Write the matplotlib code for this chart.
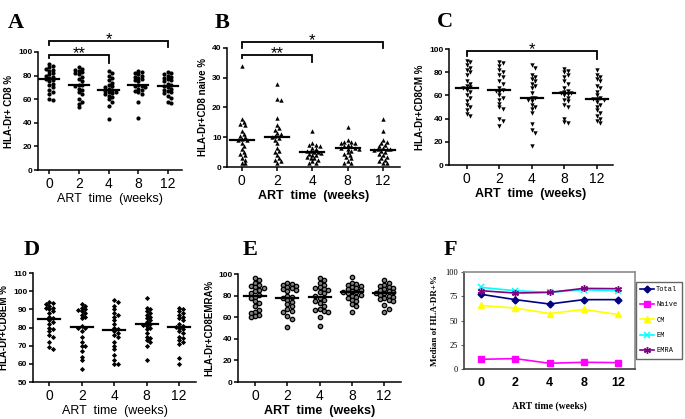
import numpy as np
import matplotlib.pyplot as plt

weeks = ['0', '2', '4', '8', '12']

# A: HLA-DR+ CD8 %
cd8_total = [
    [90, 88, 87, 86, 85, 84, 82, 81, 80, 79, 78, 77, 76, 75, 73, 72, 70, 68, 66, 64, 60, 59],
    [87, 86, 85, 84, 83, 82, 81, 79, 77, 75, 72, 72, 71, 69, 68, 66, 64, 60, 58, 56, 53],
    [84, 82, 80, 78, 76, 74, 72, 71, 70, 69, 68, 67, 66, 66, 65, 64, 63, 62, 60, 58, 54, 43],
    [84, 83, 82, 81, 80, 79, 78, 77, 76, 75, 72, 71.5, 71, 70, 69, 68, 67, 66, 64, 58, 44],
    [83, 82, 81, 80, 79, 78, 77, 76, 75, 73, 72, 71, 70, 69, 68, 67, 66, 65, 63, 61, 58, 57],
]
# B: naive
cd8_naive = [
    [34, 16, 15, 14.5, 14, 12, 11, 10.5, 10, 9.5, 9.2, 9, 8, 7, 6, 5, 4.5, 4, 3, 2.5, 1.3, 1.3],
    [28, 23, 22.5, 16.5, 14, 13, 12.5, 11.5, 11, 10.5, 10.2, 9.8, 9, 8, 6.5, 5.5, 5, 4, 3, 2.5, 2, 1.5],
    [12, 8, 7.5, 7.5, 7, 6.5, 6, 5.5, 5.5, 5, 5, 4.8, 4.5, 4, 4, 3.5, 3, 3, 2.5, 2, 1.5, 1.2],
    [13.5, 9, 8.5, 8.5, 8, 8, 7.5, 7, 7, 6.5, 6.5, 6.2, 6, 5.5, 5, 4.5, 4, 3.5, 3, 2, 1.5, 1.5],
    [16, 12, 9, 8.5, 8, 7.5, 7, 6.5, 6.2, 6, 6, 5.6, 5.5, 5, 4.5, 4, 3.5, 3, 2.5, 2, 1.5, 1.2],
]
# C: central memory
cd8_cm = [
    [90, 89, 86, 84, 82, 80, 78, 72, 70, 68, 67, 66, 65, 63, 60, 58, 55, 52, 50, 47, 44, 42],
    [89, 88, 85, 82, 80, 78, 76, 72, 70, 66, 65, 64, 63, 60, 58, 56, 53, 50, 48, 40, 38, 34],
    [86, 84, 78, 76, 74, 72, 70, 68, 66, 62, 58, 57.5, 56, 55, 52, 50, 48, 45, 35, 30, 28, 16],
    [83, 81, 80, 78, 76, 72, 70, 66, 64, 63, 62, 62, 61, 60, 58, 56, 55, 52, 50, 40, 37, 36],
    [82, 78, 76, 74, 72, 68, 66, 63, 60, 58, 57, 56.5, 56, 54, 52, 50, 47, 45, 42, 40, 38, 36],
]
# D: effector memory
cd8_em = [
    [94, 93.5, 93, 92, 91, 90.5, 90, 89, 88, 86, 85, 84, 83, 82, 80, 79, 78, 76, 75, 72, 69, 68],
    [93, 92, 91, 90, 89.5, 89, 88, 87, 86, 85, 81, 80, 80, 78, 75, 72, 70, 70, 67, 64, 62, 57],
    [95, 94, 92, 90, 88, 87, 86, 84, 82, 80, 79, 78, 77, 76, 75, 72, 70, 68, 65, 62, 60, 60],
    [96, 91, 90, 89, 88, 87, 86, 85, 84, 83, 82, 81.5, 81, 80, 79, 77, 75, 74, 73, 72, 70, 62],
    [91, 90, 89, 88, 87, 86, 85, 84, 82, 81, 80.5, 80, 79, 78, 77, 75, 74, 73, 72, 71, 63, 60],
]
# E: EMRA
cd8_emra = [
    [96, 94, 92, 90, 89, 88, 87, 85, 84, 82, 81, 79, 78, 75, 73, 70, 67, 65, 64, 62, 61, 60],
    [92, 91, 90, 89, 88, 87, 86, 85, 84, 80, 78.5, 77.5, 76, 74, 72, 70, 68, 66, 65, 61, 58, 51],
    [96, 94, 92, 90, 88, 87, 86, 85, 83, 82, 80, 78, 76, 75, 73, 70, 68, 67, 66, 65, 60, 52],
    [97, 92, 91, 90, 89, 88, 87, 86, 85, 84, 83.5, 83, 82, 81, 80, 79, 78, 76, 75, 72, 70, 65],
    [94, 92, 90, 89, 88, 87, 86, 85, 84, 83, 82.5, 82, 81, 80, 79, 78, 77, 76, 75, 71, 68, 65],
]

# F: medians
med_total = [77, 71.5, 67, 71.5, 71.5]
med_naive = [10, 10.7, 5.9, 6.9, 6.6]
med_cm = [65.5, 62.8, 57.2, 61.4, 56.2]
med_em = [84.1, 80.7, 79, 81.7, 80.7]
med_emra = [80.7, 78.3, 79, 83.1, 82.8]

plt.rcParams['font.family'] = ['Liberation Sans', 'DejaVu Sans']

fig = plt.figure(figsize=(6.85, 4.19), dpi=100)
W, H = 685, 419


def add_ax(l, t, r, b):
    return fig.add_axes([l / W, 1 - b / H, (r - l) / W, (b - t) / H])


def swarm(ax, vals, pos, size_px):
    bb = ax.get_position()
    x0, x1 = ax.get_xlim()
    y0, y1 = ax.get_ylim()
    px_x = bb.width * W / (x1 - x0)
    px_y = bb.height * H / (y1 - y0)
    placed = []
    xs, ys = [], []
    step = size_px * 0.5
    for v in sorted(vals, reverse=True):
        yp = v * px_y
        k = 0
        while True:
            off = ((k + 1) // 2) * step * (1 if k % 2 else -1)
            if all((off - ox) ** 2 + (yp - oy) ** 2 >= (size_px * 0.95) ** 2 for ox, oy in placed):
                break
            k += 1
        placed.append((off, yp))
        xs.append(pos + off / px_x)
        ys.append(v)
    return xs, ys


def bracket(ax, x0, x1, y, d0, d1, text):
    ax.plot([x0, x0, x1, x1], [y - d0, y, y, y - d1], color='k', lw=1.3, clip_on=False,
            solid_joinstyle='miter')
    ax.annotate(text, ((x0 + x1) / 2, y), xytext=(0, -2.2), textcoords='offset points',
                ha='center', va='baseline', fontsize=12, annotation_clip=False)


def scatter_panel(box, data, ylim, yticks, ylabel, letter, letter_xy, marker, size_px,
                  mkw, xlim, bold_x=False):
    ax = add_ax(*box)
    ax.set_xlim(*xlim)
    ax.set_ylim(*ylim)
    for i, vals in enumerate(data):
        xs, ys = swarm(ax, vals, i, size_px)
        ax.scatter(xs, ys, marker=marker, clip_on=False, zorder=3, **mkw)
        m = np.median(vals)
        ax.plot([i - 0.34, i + 0.34], [m, m], color='k', lw=1.6, zorder=4)
    for s in ['top', 'right']:
        ax.spines[s].set_visible(False)
    for s in ['left', 'bottom']:
        ax.spines[s].set_linewidth(1.1)
    ax.set_yticks(yticks)
    ax.set_yticklabels([str(t) for t in yticks], fontsize=6, fontweight='bold')
    ax.set_xticks(range(5))
    ax.set_xticklabels(weeks, fontsize=10)
    ax.tick_params(axis='y', length=3, width=1.1, pad=1)
    ax.tick_params(axis='x', length=3, width=1.1, pad=2)
    ax.set_ylabel(ylabel, fontsize=7, fontweight='bold', labelpad=3)
    ax.set_xlabel('ART  time  (weeks)', fontsize=9,
                  fontweight='bold' if bold_x else 'normal', labelpad=1.5)
    fig.text(letter_xy[0] / W, 1 - letter_xy[1] / H, letter, fontsize=16, fontweight='bold',
             family='Liberation Serif', ha='center', va='center')
    return ax


axA = scatter_panel((38, 52, 182, 170), cd8_total, (0, 100), [0, 20, 40, 60, 80, 100],
                    'HLA-Dr+ CD8 %', 'A', (16, 23), 'o', 3.6,
                    dict(s=9, color='k', linewidths=0), (-0.38, 4.48))
bracket(axA, 0, 4, 109, 3, 5, '*')
bracket(axA, 0, 2, 97.5, 3, 6.5, '**')

axB = scatter_panel((227, 48, 400, 167), cd8_naive, (0, 40), [0, 10, 20, 30, 40],
                    'HLA-Dr+CD8 naive %', 'B', (222, 23), '^', 3.6,
                    dict(s=10, color='k', linewidths=0), (-0.42, 4.48), bold_x=True)
bracket(axB, 0, 4, 42, 2, 2, '*')
bracket(axB, 0, 2, 37.7, 1.2, 2.3, '**')

axC = scatter_panel((449, 49, 613, 165), cd8_cm, (0, 100), [0, 20, 40, 60, 80, 100],
                    'HLA-Dr+CD8CM %', 'C', (445, 22), 'v', 3.6,
                    dict(s=10, color='k', linewidths=0), (-0.54, 4.5), bold_x=True)
bracket(axC, 0, 4, 98, 4, 7, '*')

axD = scatter_panel((33, 273, 196, 382), cd8_em, (50, 110), [50, 60, 70, 80, 90, 100, 110],
                    'HLA-Dr+CD8EM %', 'D', (32, 250), 'D', 3.4,
                    dict(s=7, color='k', linewidths=0), (-0.5, 4.52))

axE = scatter_panel((238, 274, 401, 382), cd8_emra, (0, 100), [0, 20, 40, 60, 80, 100],
                    'HLA-Dr+CD8EMRA%', 'E', (250, 250), 'o', 4.3,
                    dict(s=10, facecolor='#808080', edgecolor='k', linewidths=0.9),
                    (-0.53, 4.52), bold_x=True)

# F: medians line chart
axF = add_ax(464, 272, 635, 369)
x = np.arange(5)
axF.plot(x, med_total, color='#000080', marker='D', ms=3.5, lw=1.2, label='Total')
axF.plot(x, med_naive, color='#FF00FF', marker='s', ms=4, lw=1.2, label='Naive')
axF.plot(x, med_cm, color='#FFFF00', marker='^', ms=4.5, lw=1.2, label='CM')
axF.plot(x, med_em, color='#00FFFF', marker='x', ms=4.5, mew=1.1, lw=1.2, label='EM')
axF.plot(x, med_emra, color='#800080', marker=(6, 2, 0), ms=5, mew=1.0, lw=1.2, label='EMRA')
axF.set_xlim(-0.5, 4.5)
axF.set_ylim(0, 100)
axF.set_yticks([0, 25, 50, 75, 100])
axF.set_yticklabels(['0', '25', '50', '75', '100'], fontsize=6, family='Liberation Serif')
axF.set_xticks(x)
axF.set_xticklabels(weeks, fontsize=9, fontweight='bold')
axF.tick_params(axis='x', length=0, pad=6)
axF.tick_params(axis='y', length=2.5, width=0.8, pad=2, color='#606060')
for s in axF.spines.values():
    s.set_color('#8c8c8c')
    s.set_linewidth(1.2)
axF.spines['left'].set_color('#404040')
axF.spines['bottom'].set_color('#404040')
axF.set_ylabel('Median of HLA-DR+%', fontsize=6.5, fontweight='bold',
               family='Liberation Serif', labelpad=4)
axF.set_xlabel('ART time (weeks)', fontsize=7, fontweight='bold',
               family='Liberation Serif', labelpad=9)
leg = axF.legend(loc='upper left', bbox_to_anchor=(636 / W, 1 - 282 / H),
                 bbox_transform=fig.transFigure, fancybox=False, frameon=True,
                 prop={'family': 'Liberation Mono', 'size': 5}, handlelength=2.0,
                 labelspacing=1.2, borderpad=0.6, handletextpad=0.3, borderaxespad=0)
leg.get_frame().set_edgecolor('#404040')
leg.get_frame().set_linewidth(1.0)
fig.text(450 / W, 1 - 250 / H, 'F', fontsize=16, fontweight='bold',
         family='Liberation Serif', ha='center', va='center')

fig.savefig('out.png', dpi=100)
